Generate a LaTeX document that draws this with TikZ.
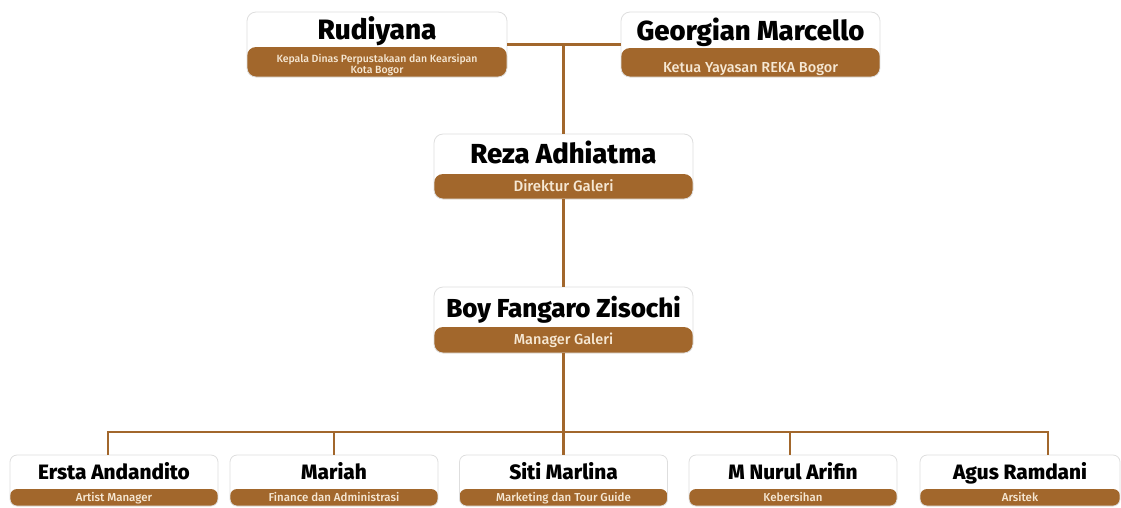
\documentclass[tikz,border=0pt]{standalone}
\usepackage{fontspec}
\setmainfont{Fira Sans}
\newfontfamily\firaheavy{Fira Sans ExtraBold}
\newfontfamily\firamed{Fira Sans Medium}
\definecolor{brn}{RGB}{162,103,44}
\definecolor{cream}{RGB}{246,232,212}
\definecolor{edge}{RGB}{222,222,222}
\begin{document}
\begin{tikzpicture}[x=1pt,y=-1pt,
  box/.style={rectangle, rounded corners=#1, draw=edge, line width=0.8pt, fill=white, inner sep=0pt},
  band/.style={path picture={\fill[brn] (path picture bounding box.south west) rectangle ([yshift=#1 pt]path picture bounding box.south east);}},
  bigttl/.style={anchor=base, inner sep=0pt, text=black, font=\firaheavy\fontsize{#1}{30}\selectfont},
  smlttl/.style={anchor=base, inner sep=0pt, text=black, font=\firaheavy\fontsize{20.8}{22}\selectfont},
  bigsub/.style={anchor=base, inner sep=0pt, text=cream, font=\firamed\fontsize{#1}{16}\selectfont},
  smlsub/.style={anchor=base, inner sep=0pt, text=cream, font=\firamed\fontsize{11.5}{12}\selectfont},
  conn/.style={draw=brn, line width=2.8pt}]
\useasboundingbox (0,0) rectangle (1121,507);

% boxes
\node[box=9pt, band=30, minimum width=260, minimum height=65] (rud) at (377,44.5) {};
\node[box=9pt, band=29, minimum width=259, minimum height=65] (geo) at (750.5,44.5) {};
\node[box=9pt, band=25, minimum width=259, minimum height=65] (reza) at (563.5,166.5) {};
\node[box=9pt, band=26, minimum width=259, minimum height=66] (boy) at (563.5,320) {};
\node[box=7pt, band=17, minimum width=208, minimum height=51] (e1) at (114,480.5) {};
\node[box=7pt, band=17, minimum width=208, minimum height=51] (e2) at (334,480.5) {};
\node[box=7pt, band=17, minimum width=208, minimum height=51] (e3) at (563.5,480.5) {};
\node[box=7pt, band=17, minimum width=208, minimum height=51] (e4) at (793,480.5) {};
\node[box=7pt, band=17, minimum width=200, minimum height=51] (e5) at (1020,480.5) {};

% connectors
\coordinate (top) at (563.5,44.5);
\coordinate (bus) at (563.5,432);
\draw[conn] (rud.east) -- (geo.west);
\draw[conn] (top) -- (reza.north);
\draw[conn] (reza.south) -- (boy.north);
\draw[conn] (boy.south) -- (bus);
\draw[conn] ([xshift=-6pt]e1.north) |- (bus) -| ([xshift=28pt]e5.north);
\draw[conn] (e2.north) -- (e2.north |- bus);
\draw[conn] (e3.north) -- (bus);
\draw[conn] ([xshift=-3pt]e4.north) -- ([xshift=-3pt]e4.north |- bus);

% texts
\node[bigttl=28] (rudn) at (377,39) {Rudiyana};
\node[smlsub, font=\firamed\fontsize{10.5}{12}\selectfont] (ruds1) at (377,62.5) {Kepala Dinas Perpustakaan dan Kearsipan};
\node[smlsub, font=\firamed\fontsize{10.5}{12}\selectfont] (ruds2) at (377,73) {Kota Bogor};
\node[bigttl=27.5] (geon) at (750.5,40) {Georgian Marcello};
\node[bigsub=14.5] (geos) at (750.5,72.5) {Ketua Yayasan REKA Bogor};
\node[bigttl=27.5] (rezan) at (563.5,163) {Reza Adhiatma};
\node[bigsub=15] (rezas) at (563.5,191.5) {Direktur Galeri};
\node[bigttl=26] (boyn) at (563.5,317) {Boy Fangaro Zisochi};
\node[bigsub=14.5] (boys) at (563.5,344) {Manager Galeri};
\node[smlttl] (e1n) at (114,479) {Ersta Andandito};
\node[smlsub] (e1s) at (114,501) {Artist Manager};
\node[smlttl] (e2n) at (334,479) {Mariah};
\node[smlsub] (e2s) at (334,501) {Finance dan Administrasi};
\node[smlttl] (e3n) at (563.5,479) {Siti Marlina};
\node[smlsub] (e3s) at (563.5,501) {Marketing dan Tour Guide};
\node[smlttl] (e4n) at (793,479) {M Nurul Arifin};
\node[smlsub] (e4s) at (793,501) {Kebersihan};
\node[smlttl] (e5n) at (1020,479) {Agus Ramdani};
\node[smlsub] (e5s) at (1020,501) {Arsitek};
\end{tikzpicture}
\end{document}
